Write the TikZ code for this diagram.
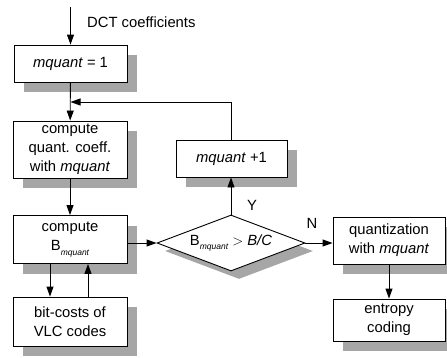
\documentclass[tikz,border=0pt]{standalone}
\usepackage{fontspec}
\setmainfont{Liberation Sans}
\usetikzlibrary{arrows.meta,shapes.geometric,shadows}
\begin{document}
\begin{tikzpicture}[x=1pt,y=-1pt,
  every node/.style={font=\fontsize{14.8}{18.8}\selectfont},
  box/.style={draw, line width=0.9pt, fill=white, rectangle, align=center, inner sep=0pt,
    general shadow={fill=black!35, shadow xshift=10pt, shadow yshift=-10pt}},
  decision/.style={draw, line width=0.9pt, fill=white, diamond, aspect=2.64, inner sep=0pt,
    minimum width=148pt, minimum height=56pt,
    general shadow={fill=black!35, shadow xshift=8pt, shadow yshift=-8pt}},
  arr/.style={line width=0.9pt, -{Triangle[length=10pt,width=7pt]}},
  lbl/.style={inner sep=0pt}
]
\useasboundingbox (0,0) rectangle (447,357);
\newcommand{\mysub}{\raisebox{-4.5pt}{\fontsize{8.5}{8.5}\selectfont\itshape mquant}}
\node[box, minimum width=113pt, minimum height=37pt] (b1) at (70.5,63.5) {\textit{mquant} = 1};
\node[box, minimum width=114pt, minimum height=57pt] (b2) at (70,149.5) {compute\\quant. coeff.\\with \textit{mquant}};
\node[box, minimum width=114pt, minimum height=48pt] (b3) at (70,239.5) {compute\\B\mysub};
\node[box, minimum width=114pt, minimum height=49pt] (b4) at (70,321.5) {bit-costs of\\VLC codes};
\node[box, minimum width=111pt, minimum height=37pt] (inc) at (231.5,158.5) {\textit{mquant} +1};
\node[decision] (dec) at (231,243) {B\mysub{} $>$ \textit{B/C}};
\node[box, minimum width=112pt, minimum height=47pt] (q) at (389,240.5) {quantization\\with \textit{mquant}};
\node[box, minimum width=112pt, minimum height=42pt] (ent) at (389,320) {entropy\\coding};

\node[lbl, anchor=west] (dct) at (87,22) {DCT coefficients};
\node[lbl] (Y) at (252,205) {Y};
\node[lbl] (N) at (312,223) {N};

\coordinate (in) at (70.5,7);
\coordinate (j) at (70.5,102);
\draw[arr] (in) -- (b1);
\draw[arr] (b1) -- (b2);
\draw[arr] (inc.north) |- (j);
\draw[arr] (b2) -- (b3);
\draw[arr] ([xshift=-20pt]b3.south) -- ([xshift=-20pt]b4.north);
\draw[arr] ([xshift=18pt]b4.north) -- ([xshift=18pt]b3.south);
\draw[arr] (b3.east |- dec.west) -- (dec.west);
\draw[arr] (dec.north) -- (dec.north |- inc.south);
\draw[arr] (dec.east) -- (dec.east -| q.west);
\draw[arr] (q) -- (ent);
\end{tikzpicture}
\end{document}
